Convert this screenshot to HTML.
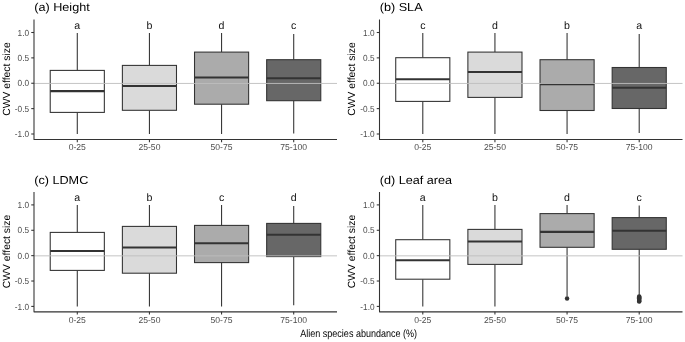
<!DOCTYPE html>
<html><head><meta charset="utf-8"><title>CWV effect size</title>
<style>
html,body{margin:0;padding:0;background:#fff;}
body{width:685px;height:342px;overflow:hidden;}
svg{display:block;font-family:"Liberation Sans",sans-serif;filter:grayscale(1);text-rendering:geometricPrecision;}
.tk{font-size:8.6px;fill:#4d4d4d;}
.ti{font-size:11.56px;fill:#000;}
.lt{font-size:10.6px;fill:#111;}
.at{font-size:10.35px;fill:#000;}
.xt{font-size:10.7px;fill:#000;}
.tky{font-size:8.8px;fill:#4d4d4d;}
</style></head><body>
<svg width="685" height="342" viewBox="0 0 685 342">
<rect x="0" y="0" width="685" height="342" fill="#ffffff"/>
<g transform="translate(0.0,0.0)">
<text class="ti" transform="translate(34.2,11.1) scale(1.095,1)">(a) Height</text>
<line x1="77.29" y1="32.9" x2="77.29" y2="70.4" stroke="#333" stroke-width="1.07"/>
<line x1="77.29" y1="112.4" x2="77.29" y2="134.0" stroke="#333" stroke-width="1.07"/>
<rect x="50.23" y="70.4" width="54.11" height="42.00" fill="#ffffff" stroke="#333" stroke-width="1.07"/>
<line x1="50.23" y1="91.1" x2="104.34" y2="91.1" stroke="#333" stroke-width="2.13"/>
<text class="lt" x="77.29" y="28.8" text-anchor="middle">a</text>
<line x1="149.43" y1="32.9" x2="149.43" y2="65.4" stroke="#333" stroke-width="1.07"/>
<line x1="149.43" y1="110.3" x2="149.43" y2="134.0" stroke="#333" stroke-width="1.07"/>
<rect x="122.38" y="65.4" width="54.11" height="44.90" fill="#dadada" stroke="#333" stroke-width="1.07"/>
<line x1="122.38" y1="86.0" x2="176.48" y2="86.0" stroke="#333" stroke-width="2.13"/>
<text class="lt" x="149.43" y="28.8" text-anchor="middle">b</text>
<line x1="221.57" y1="33.0" x2="221.57" y2="52.1" stroke="#333" stroke-width="1.07"/>
<line x1="221.57" y1="104.2" x2="221.57" y2="134.0" stroke="#333" stroke-width="1.07"/>
<rect x="194.52" y="52.1" width="54.11" height="52.10" fill="#ababab" stroke="#333" stroke-width="1.07"/>
<line x1="194.52" y1="77.5" x2="248.62" y2="77.5" stroke="#333" stroke-width="2.13"/>
<text class="lt" x="221.57" y="28.8" text-anchor="middle">d</text>
<line x1="293.71" y1="34.0" x2="293.71" y2="59.7" stroke="#333" stroke-width="1.07"/>
<line x1="293.71" y1="100.7" x2="293.71" y2="133.6" stroke="#333" stroke-width="1.07"/>
<rect x="266.66" y="59.7" width="54.11" height="41.00" fill="#676767" stroke="#333" stroke-width="1.07"/>
<line x1="266.66" y1="78.3" x2="320.77" y2="78.3" stroke="#333" stroke-width="2.13"/>
<text class="lt" x="293.71" y="28.8" text-anchor="middle">c</text>
<line x1="34.0" y1="83.45" x2="337.0" y2="83.45" stroke="#bdbdbd" stroke-width="0.9"/>
<path d="M34.0,19.5 L34.0,139.45 L337.0,139.45" fill="none" stroke="#333" stroke-width="1.07" stroke-linejoin="round"/>
<line x1="31.25" y1="32.50" x2="34.0" y2="32.50" stroke="#333" stroke-width="1.07"/>
<text class="tky" transform="translate(29.1,35.65) scale(0.94,1)" text-anchor="end">1.0</text>
<line x1="31.25" y1="57.88" x2="34.0" y2="57.88" stroke="#333" stroke-width="1.07"/>
<text class="tky" transform="translate(29.1,61.02) scale(0.94,1)" text-anchor="end">0.5</text>
<line x1="31.25" y1="83.25" x2="34.0" y2="83.25" stroke="#333" stroke-width="1.07"/>
<text class="tky" transform="translate(29.1,86.40) scale(0.94,1)" text-anchor="end">0.0</text>
<line x1="31.25" y1="108.62" x2="34.0" y2="108.62" stroke="#333" stroke-width="1.07"/>
<text class="tky" transform="translate(29.1,111.78) scale(0.94,1)" text-anchor="end">-0.5</text>
<line x1="31.25" y1="134.00" x2="34.0" y2="134.00" stroke="#333" stroke-width="1.07"/>
<text class="tky" transform="translate(29.1,137.15) scale(0.94,1)" text-anchor="end">-1.0</text>
<line x1="77.29" y1="139.45" x2="77.29" y2="142.2" stroke="#333" stroke-width="1.07"/>
<text class="tk" x="77.29" y="150.20" text-anchor="middle">0-25</text>
<line x1="149.43" y1="139.45" x2="149.43" y2="142.2" stroke="#333" stroke-width="1.07"/>
<text class="tk" x="149.43" y="150.20" text-anchor="middle">25-50</text>
<line x1="221.57" y1="139.45" x2="221.57" y2="142.2" stroke="#333" stroke-width="1.07"/>
<text class="tk" x="221.57" y="150.20" text-anchor="middle">50-75</text>
<line x1="293.71" y1="139.45" x2="293.71" y2="142.2" stroke="#333" stroke-width="1.07"/>
<text class="tk" x="293.71" y="150.20" text-anchor="middle">75-100</text>
<text class="at" transform="translate(9.9,79.07) rotate(-90)" text-anchor="middle">CWV effect size</text>
</g>
<g transform="translate(345.5,0.0)">
<text class="ti" transform="translate(34.2,11.1) scale(1.095,1)">(b) SLA</text>
<line x1="77.29" y1="32.9" x2="77.29" y2="57.7" stroke="#333" stroke-width="1.07"/>
<line x1="77.29" y1="101.4" x2="77.29" y2="134.0" stroke="#333" stroke-width="1.07"/>
<rect x="50.23" y="57.7" width="54.11" height="43.70" fill="#ffffff" stroke="#333" stroke-width="1.07"/>
<line x1="50.23" y1="79.3" x2="104.34" y2="79.3" stroke="#333" stroke-width="2.13"/>
<text class="lt" x="77.29" y="28.8" text-anchor="middle">c</text>
<line x1="149.43" y1="32.9" x2="149.43" y2="52.1" stroke="#333" stroke-width="1.07"/>
<line x1="149.43" y1="97.4" x2="149.43" y2="134.0" stroke="#333" stroke-width="1.07"/>
<rect x="122.38" y="52.1" width="54.11" height="45.30" fill="#dadada" stroke="#333" stroke-width="1.07"/>
<line x1="122.38" y1="72.0" x2="176.48" y2="72.0" stroke="#333" stroke-width="2.13"/>
<text class="lt" x="149.43" y="28.8" text-anchor="middle">d</text>
<line x1="221.57" y1="33.0" x2="221.57" y2="59.7" stroke="#333" stroke-width="1.07"/>
<line x1="221.57" y1="110.5" x2="221.57" y2="134.0" stroke="#333" stroke-width="1.07"/>
<rect x="194.52" y="59.7" width="54.11" height="50.80" fill="#ababab" stroke="#333" stroke-width="1.07"/>
<line x1="194.52" y1="84.2" x2="248.62" y2="84.2" stroke="#333" stroke-width="2.13"/>
<text class="lt" x="221.57" y="28.8" text-anchor="middle">b</text>
<line x1="293.71" y1="34.0" x2="293.71" y2="67.5" stroke="#333" stroke-width="1.07"/>
<line x1="293.71" y1="108.5" x2="293.71" y2="133.0" stroke="#333" stroke-width="1.07"/>
<rect x="266.66" y="67.5" width="54.11" height="41.00" fill="#676767" stroke="#333" stroke-width="1.07"/>
<line x1="266.66" y1="87.8" x2="320.77" y2="87.8" stroke="#333" stroke-width="2.13"/>
<text class="lt" x="293.71" y="28.8" text-anchor="middle">a</text>
<line x1="34.0" y1="83.45" x2="337.0" y2="83.45" stroke="#bdbdbd" stroke-width="0.9"/>
<path d="M34.0,19.5 L34.0,139.45 L337.0,139.45" fill="none" stroke="#333" stroke-width="1.07" stroke-linejoin="round"/>
<line x1="31.25" y1="32.50" x2="34.0" y2="32.50" stroke="#333" stroke-width="1.07"/>
<text class="tky" transform="translate(29.1,35.65) scale(0.94,1)" text-anchor="end">1.0</text>
<line x1="31.25" y1="57.88" x2="34.0" y2="57.88" stroke="#333" stroke-width="1.07"/>
<text class="tky" transform="translate(29.1,61.02) scale(0.94,1)" text-anchor="end">0.5</text>
<line x1="31.25" y1="83.25" x2="34.0" y2="83.25" stroke="#333" stroke-width="1.07"/>
<text class="tky" transform="translate(29.1,86.40) scale(0.94,1)" text-anchor="end">0.0</text>
<line x1="31.25" y1="108.62" x2="34.0" y2="108.62" stroke="#333" stroke-width="1.07"/>
<text class="tky" transform="translate(29.1,111.78) scale(0.94,1)" text-anchor="end">-0.5</text>
<line x1="31.25" y1="134.00" x2="34.0" y2="134.00" stroke="#333" stroke-width="1.07"/>
<text class="tky" transform="translate(29.1,137.15) scale(0.94,1)" text-anchor="end">-1.0</text>
<line x1="77.29" y1="139.45" x2="77.29" y2="142.2" stroke="#333" stroke-width="1.07"/>
<text class="tk" x="77.29" y="150.20" text-anchor="middle">0-25</text>
<line x1="149.43" y1="139.45" x2="149.43" y2="142.2" stroke="#333" stroke-width="1.07"/>
<text class="tk" x="149.43" y="150.20" text-anchor="middle">25-50</text>
<line x1="221.57" y1="139.45" x2="221.57" y2="142.2" stroke="#333" stroke-width="1.07"/>
<text class="tk" x="221.57" y="150.20" text-anchor="middle">50-75</text>
<line x1="293.71" y1="139.45" x2="293.71" y2="142.2" stroke="#333" stroke-width="1.07"/>
<text class="tk" x="293.71" y="150.20" text-anchor="middle">75-100</text>
<text class="at" transform="translate(9.9,79.07) rotate(-90)" text-anchor="middle">CWV effect size</text>
</g>
<g transform="translate(0.0,172.4)">
<text class="ti" transform="translate(34.2,11.1) scale(1.095,1)">(c) LDMC</text>
<line x1="77.29" y1="32.7" x2="77.29" y2="60.0" stroke="#333" stroke-width="1.07"/>
<line x1="77.29" y1="98.0" x2="77.29" y2="134.0" stroke="#333" stroke-width="1.07"/>
<rect x="50.23" y="60.0" width="54.11" height="38.00" fill="#ffffff" stroke="#333" stroke-width="1.07"/>
<line x1="50.23" y1="78.6" x2="104.34" y2="78.6" stroke="#333" stroke-width="2.13"/>
<text class="lt" x="77.29" y="28.8" text-anchor="middle">a</text>
<line x1="149.43" y1="32.7" x2="149.43" y2="54.0" stroke="#333" stroke-width="1.07"/>
<line x1="149.43" y1="100.8" x2="149.43" y2="134.0" stroke="#333" stroke-width="1.07"/>
<rect x="122.38" y="54.0" width="54.11" height="46.80" fill="#dadada" stroke="#333" stroke-width="1.07"/>
<line x1="122.38" y1="75.1" x2="176.48" y2="75.1" stroke="#333" stroke-width="2.13"/>
<text class="lt" x="149.43" y="28.8" text-anchor="middle">b</text>
<line x1="221.57" y1="32.7" x2="221.57" y2="53.0" stroke="#333" stroke-width="1.07"/>
<line x1="221.57" y1="90.2" x2="221.57" y2="134.0" stroke="#333" stroke-width="1.07"/>
<rect x="194.52" y="53.0" width="54.11" height="37.20" fill="#ababab" stroke="#333" stroke-width="1.07"/>
<line x1="194.52" y1="70.8" x2="248.62" y2="70.8" stroke="#333" stroke-width="2.13"/>
<text class="lt" x="221.57" y="28.8" text-anchor="middle">c</text>
<line x1="293.71" y1="33.6" x2="293.71" y2="51.0" stroke="#333" stroke-width="1.07"/>
<line x1="293.71" y1="84.2" x2="293.71" y2="132.8" stroke="#333" stroke-width="1.07"/>
<rect x="266.66" y="51.0" width="54.11" height="33.20" fill="#676767" stroke="#333" stroke-width="1.07"/>
<line x1="266.66" y1="62.3" x2="320.77" y2="62.3" stroke="#333" stroke-width="2.13"/>
<text class="lt" x="293.71" y="28.8" text-anchor="middle">d</text>
<line x1="34.0" y1="83.45" x2="337.0" y2="83.45" stroke="#bdbdbd" stroke-width="0.9"/>
<path d="M34.0,19.5 L34.0,139.45 L337.0,139.45" fill="none" stroke="#333" stroke-width="1.07" stroke-linejoin="round"/>
<line x1="31.25" y1="32.50" x2="34.0" y2="32.50" stroke="#333" stroke-width="1.07"/>
<text class="tky" transform="translate(29.1,35.65) scale(0.94,1)" text-anchor="end">1.0</text>
<line x1="31.25" y1="57.88" x2="34.0" y2="57.88" stroke="#333" stroke-width="1.07"/>
<text class="tky" transform="translate(29.1,61.02) scale(0.94,1)" text-anchor="end">0.5</text>
<line x1="31.25" y1="83.25" x2="34.0" y2="83.25" stroke="#333" stroke-width="1.07"/>
<text class="tky" transform="translate(29.1,86.40) scale(0.94,1)" text-anchor="end">0.0</text>
<line x1="31.25" y1="108.62" x2="34.0" y2="108.62" stroke="#333" stroke-width="1.07"/>
<text class="tky" transform="translate(29.1,111.78) scale(0.94,1)" text-anchor="end">-0.5</text>
<line x1="31.25" y1="134.00" x2="34.0" y2="134.00" stroke="#333" stroke-width="1.07"/>
<text class="tky" transform="translate(29.1,137.15) scale(0.94,1)" text-anchor="end">-1.0</text>
<line x1="77.29" y1="139.45" x2="77.29" y2="142.2" stroke="#333" stroke-width="1.07"/>
<text class="tk" x="77.29" y="150.20" text-anchor="middle">0-25</text>
<line x1="149.43" y1="139.45" x2="149.43" y2="142.2" stroke="#333" stroke-width="1.07"/>
<text class="tk" x="149.43" y="150.20" text-anchor="middle">25-50</text>
<line x1="221.57" y1="139.45" x2="221.57" y2="142.2" stroke="#333" stroke-width="1.07"/>
<text class="tk" x="221.57" y="150.20" text-anchor="middle">50-75</text>
<line x1="293.71" y1="139.45" x2="293.71" y2="142.2" stroke="#333" stroke-width="1.07"/>
<text class="tk" x="293.71" y="150.20" text-anchor="middle">75-100</text>
<text class="at" transform="translate(9.9,79.07) rotate(-90)" text-anchor="middle">CWV effect size</text>
</g>
<g transform="translate(345.5,172.4)">
<text class="ti" transform="translate(34.2,11.1) scale(1.095,1)">(d) Leaf area</text>
<line x1="77.29" y1="32.7" x2="77.29" y2="67.3" stroke="#333" stroke-width="1.07"/>
<line x1="77.29" y1="106.8" x2="77.29" y2="134.0" stroke="#333" stroke-width="1.07"/>
<rect x="50.23" y="67.3" width="54.11" height="39.50" fill="#ffffff" stroke="#333" stroke-width="1.07"/>
<line x1="50.23" y1="87.9" x2="104.34" y2="87.9" stroke="#333" stroke-width="2.13"/>
<text class="lt" x="77.29" y="28.8" text-anchor="middle">a</text>
<line x1="149.43" y1="32.7" x2="149.43" y2="57.0" stroke="#333" stroke-width="1.07"/>
<line x1="149.43" y1="92.0" x2="149.43" y2="134.0" stroke="#333" stroke-width="1.07"/>
<rect x="122.38" y="57.0" width="54.11" height="35.00" fill="#dadada" stroke="#333" stroke-width="1.07"/>
<line x1="122.38" y1="69.1" x2="176.48" y2="69.1" stroke="#333" stroke-width="2.13"/>
<text class="lt" x="149.43" y="28.8" text-anchor="middle">b</text>
<line x1="221.57" y1="32.7" x2="221.57" y2="41.2" stroke="#333" stroke-width="1.07"/>
<line x1="221.57" y1="74.9" x2="221.57" y2="124.0" stroke="#333" stroke-width="1.07"/>
<circle cx="221.57" cy="126.0" r="2.25" fill="#333"/>
<rect x="194.52" y="41.2" width="54.11" height="33.70" fill="#ababab" stroke="#333" stroke-width="1.07"/>
<line x1="194.52" y1="59.5" x2="248.62" y2="59.5" stroke="#333" stroke-width="2.13"/>
<text class="lt" x="221.57" y="28.8" text-anchor="middle">d</text>
<line x1="293.71" y1="33.1" x2="293.71" y2="45.2" stroke="#333" stroke-width="1.07"/>
<line x1="293.71" y1="76.9" x2="293.71" y2="123.0" stroke="#333" stroke-width="1.07"/>
<circle cx="293.71" cy="124.0" r="2.25" fill="#333"/>
<circle cx="293.71" cy="124.9" r="2.25" fill="#333"/>
<circle cx="293.71" cy="125.8" r="2.25" fill="#333"/>
<circle cx="293.71" cy="126.7" r="2.25" fill="#333"/>
<circle cx="293.71" cy="127.6" r="2.25" fill="#333"/>
<circle cx="293.71" cy="128.5" r="2.25" fill="#333"/>
<circle cx="293.71" cy="129.2" r="2.25" fill="#333"/>
<rect x="266.66" y="45.2" width="54.11" height="31.70" fill="#676767" stroke="#333" stroke-width="1.07"/>
<line x1="266.66" y1="58.3" x2="320.77" y2="58.3" stroke="#333" stroke-width="2.13"/>
<text class="lt" x="293.71" y="28.8" text-anchor="middle">c</text>
<line x1="34.0" y1="83.45" x2="337.0" y2="83.45" stroke="#bdbdbd" stroke-width="0.9"/>
<path d="M34.0,19.5 L34.0,139.45 L337.0,139.45" fill="none" stroke="#333" stroke-width="1.07" stroke-linejoin="round"/>
<line x1="31.25" y1="32.50" x2="34.0" y2="32.50" stroke="#333" stroke-width="1.07"/>
<text class="tky" transform="translate(29.1,35.65) scale(0.94,1)" text-anchor="end">1.0</text>
<line x1="31.25" y1="57.88" x2="34.0" y2="57.88" stroke="#333" stroke-width="1.07"/>
<text class="tky" transform="translate(29.1,61.02) scale(0.94,1)" text-anchor="end">0.5</text>
<line x1="31.25" y1="83.25" x2="34.0" y2="83.25" stroke="#333" stroke-width="1.07"/>
<text class="tky" transform="translate(29.1,86.40) scale(0.94,1)" text-anchor="end">0.0</text>
<line x1="31.25" y1="108.62" x2="34.0" y2="108.62" stroke="#333" stroke-width="1.07"/>
<text class="tky" transform="translate(29.1,111.78) scale(0.94,1)" text-anchor="end">-0.5</text>
<line x1="31.25" y1="134.00" x2="34.0" y2="134.00" stroke="#333" stroke-width="1.07"/>
<text class="tky" transform="translate(29.1,137.15) scale(0.94,1)" text-anchor="end">-1.0</text>
<line x1="77.29" y1="139.45" x2="77.29" y2="142.2" stroke="#333" stroke-width="1.07"/>
<text class="tk" x="77.29" y="150.20" text-anchor="middle">0-25</text>
<line x1="149.43" y1="139.45" x2="149.43" y2="142.2" stroke="#333" stroke-width="1.07"/>
<text class="tk" x="149.43" y="150.20" text-anchor="middle">25-50</text>
<line x1="221.57" y1="139.45" x2="221.57" y2="142.2" stroke="#333" stroke-width="1.07"/>
<text class="tk" x="221.57" y="150.20" text-anchor="middle">50-75</text>
<line x1="293.71" y1="139.45" x2="293.71" y2="142.2" stroke="#333" stroke-width="1.07"/>
<text class="tk" x="293.71" y="150.20" text-anchor="middle">75-100</text>
<text class="at" transform="translate(9.9,79.07) rotate(-90)" text-anchor="middle">CWV effect size</text>
</g>
<text class="xt" x="300.3" y="337.1" textLength="116.7" lengthAdjust="spacingAndGlyphs">Alien species abundance (%)</text>
</svg></body></html>
